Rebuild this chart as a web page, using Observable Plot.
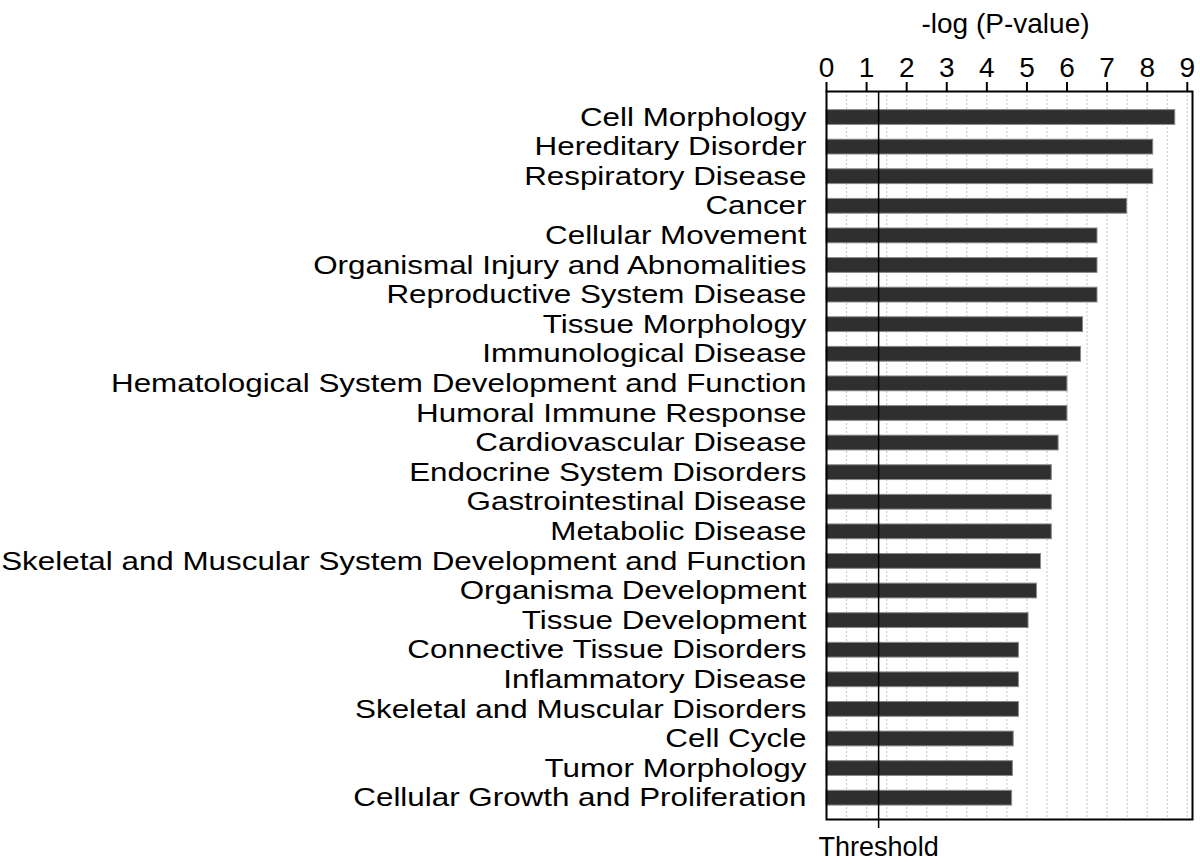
<!DOCTYPE html>
<html>
<head>
<meta charset="utf-8">
<script src="https://cdn.jsdelivr.net/npm/d3@7"></script>
<script src="https://cdn.jsdelivr.net/npm/@observablehq/plot@0.6"></script>
<style>
  html, body { margin: 0; padding: 0; background: #fff; }
  #chart { width: 1200px; height: 866px; }
</style>
</head>
<body>
<div id="chart"></div>
<script>
const categories = [
  "Cell Morphology",
  "Hereditary Disorder",
  "Respiratory Disease",
  "Cancer",
  "Cellular Movement",
  "Organismal Injury and Abnomalities",
  "Reproductive System Disease",
  "Tissue Morphology",
  "Immunological Disease",
  "Hematological System Development and Function",
  "Humoral Immune Response",
  "Cardiovascular Disease",
  "Endocrine System Disorders",
  "Gastrointestinal Disease",
  "Metabolic Disease",
  "Skeletal and Muscular System Development and Function",
  "Organisma Development",
  "Tissue Development",
  "Connective Tissue Disorders",
  "Inflammatory Disease",
  "Skeletal and Muscular Disorders",
  "Cell Cycle",
  "Tumor Morphology",
  "Cellular Growth and Proliferation"
];
const values = [
  8.70, 8.15, 8.15, 7.50, 6.76, 6.76, 6.76, 6.40, 6.35, 6.01, 6.01, 5.79,
  5.62, 5.62, 5.62, 5.35, 5.25, 5.04, 4.80, 4.80, 4.80, 4.67, 4.65, 4.63
];
const xTicks = [0, 1, 2, 3, 4, 5, 6, 7, 8, 9];
const gridValues = [0.5, 1, 1.5, 2, 2.5, 3, 3.5, 4, 4.5, 5, 5.5, 6, 6.5, 7, 7.5, 8, 8.5, 9];
const thresholdValue = [1.3];
const thresholdLabel = "Threshold";
const xTitle = "-log (P-value)";

const data = categories.map((c, i) => ({category: c, value: values[i]}));

const chart = Plot.plot({
  width: 1200,
  height: 866,
  marginLeft: 826,
  marginRight: 8,
  marginTop: 91,
  marginBottom: 47,
  style: {fontFamily: "'Liberation Sans', Arial, sans-serif", background: "#fff", color: "#000"},
  x: {domain: [0, 9.13]},
  y: {domain: categories, range: [93.2, 821.5], paddingInner: 0.5, paddingOuter: 0.555, round: false},
  marks: [
    Plot.gridX(gridValues, {stroke: "#c4c4c4", strokeOpacity: 1, strokeDasharray: "2,2", strokeWidth: 1}),
    Plot.barX(data, {x: "value", y: "category", fill: "#2f2f2f", stroke: "#8a8a8a", strokeWidth: 1}),
    Plot.ruleX(thresholdValue, {stroke: "#000", strokeWidth: 1.5, insetBottom: -9}),
    Plot.frame({stroke: "#000", strokeWidth: 2}),
    Plot.axisX(xTicks, {anchor: "top", tickSize: 10, tickPadding: 5, fontSize: 28, label: null, strokeWidth: 2}),
    Plot.axisY({tickSize: 0, tickPadding: 20, fontSize: 25.5, label: null}),
    Plot.text([xTitle], {frameAnchor: "top", dx: -4, dy: -67, lineAnchor: "middle", fontSize: 28, fill: "#000", ariaLabel: "stretch-title"}),
    Plot.text(thresholdValue, {x: d => d, text: () => thresholdLabel, frameAnchor: "bottom", dy: 17, lineAnchor: "top", fontSize: 27, fill: "#000", ariaLabel: "stretch-thr"})
  ]
});

// horizontal stretch of the text, like the reference's wide lettering
function stretch(sel, s) {
  d3.select(chart).selectAll(sel).each(function () {
    const t = this.getAttribute("transform");
    if (t) {
      this.setAttribute("transform", t + ` scale(${s},1)`);
    } else {
      const x = +this.getAttribute("x") || 0, y = +this.getAttribute("y") || 0;
      this.removeAttribute("x"); this.removeAttribute("y");
      this.setAttribute("transform", `translate(${x},${y}) scale(${s},1)`);
    }
  });
}
stretch("g[aria-label='y-axis tick label'] text", 1.23);
stretch("g[aria-label='stretch-title'] text", 1.1);
stretch("g[aria-label='stretch-thr'] text", 1.1);

document.getElementById("chart").appendChild(chart);
</script>
</body>
</html>
